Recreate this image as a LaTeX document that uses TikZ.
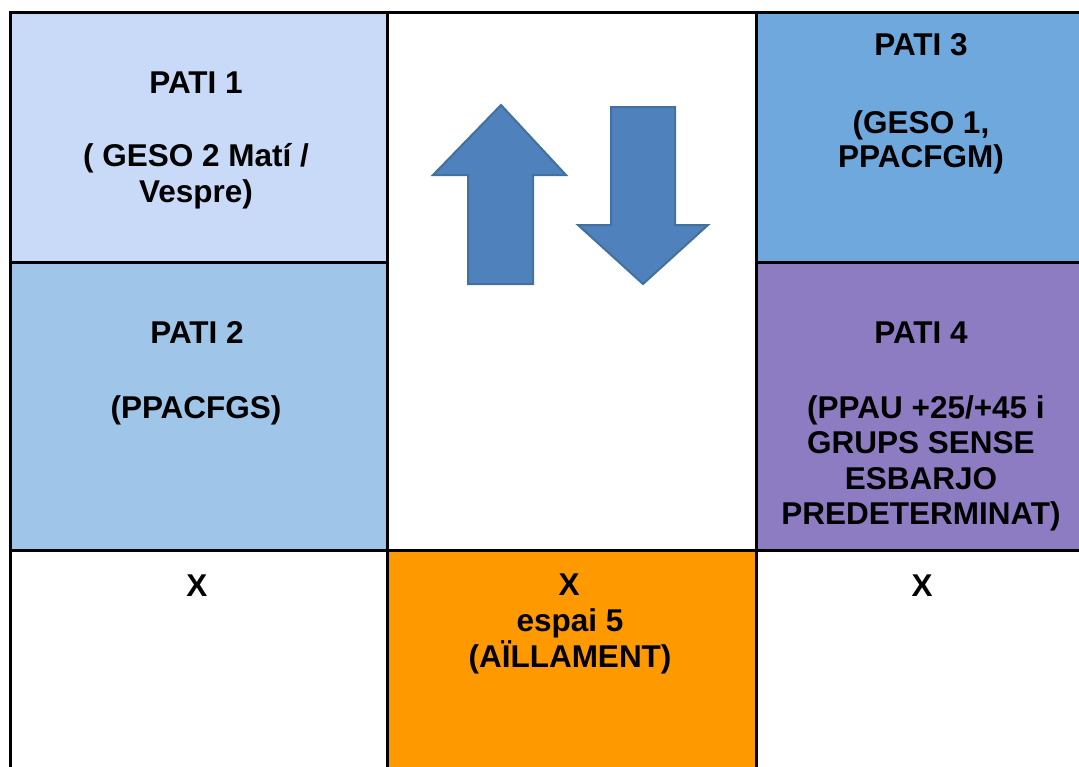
\documentclass[tikz,border=0pt]{standalone}
\usepackage{fontspec}
\setmainfont{Liberation Sans}
\definecolor{pati1}{HTML}{C9DAF8}
\definecolor{pati2}{HTML}{9FC5E8}
\definecolor{pati3}{HTML}{6FA8DC}
\definecolor{pati4}{HTML}{8E7CC3}
\definecolor{aill}{HTML}{FF9900}
\definecolor{arrowblue}{HTML}{4F81BD}
\definecolor{arrowedge}{HTML}{41719C}
\begin{document}
\begin{tikzpicture}[x=1pt,y=-1pt,
  cell/.style={draw=black, line width=3pt},
  lbl/.style={anchor=base, font=\fontsize{31.5}{35.5}\selectfont\bfseries, inner sep=0pt},
  bigarrow/.style={fill=arrowblue, draw=arrowedge, line width=2pt, line join=miter}]
\useasboundingbox (0,0) rectangle (1079,766);
\fill[white] (0,0) rectangle (1079,766);
\begin{scope}
\clip (0,0) rectangle (1079,766);
% cells
\path[cell, fill=pati1] (10,12) rectangle (387,262);
\path[cell, fill=pati2] (10,262) rectangle (387,550);
\path[cell, fill=white] (387,12) rectangle (756,550);
\path[cell, fill=pati3] (756,12) rectangle (1086,262);
\path[cell, fill=pati4] (756,262) rectangle (1086,550);
\path[cell, fill=white] (10,550) rectangle (387,790);
\path[cell, fill=aill] (387,550) rectangle (756,790);
\path[cell, fill=white] (756,550) rectangle (1086,790);
\end{scope}
% arrows
\draw[bigarrow] (501,105) -- (566,175) -- (533,175) -- (533,284) -- (468,284) -- (468,175) -- (433,175) -- cycle;
\draw[bigarrow] (611,107) -- (675,107) -- (675,225) -- (708,225) -- (643,284) -- (578,225) -- (611,225) -- cycle;
% texts
\node[lbl] (p1a) at (196,93) {PATI 1};
\node[lbl] (p1b) at (196,166) {( GESO 2 Matí /};
\node[lbl] (p1c) at (196,202) {Vespre)};
\node[lbl] (p2a) at (197,343) {PATI 2};
\node[lbl] (p2b) at (196,418) {(PPACFGS)};
\node[lbl] (p3a) at (921,55) {PATI 3};
\node[lbl] (p3b) at (921,133) {(GESO 1,};
\node[lbl] (p3c) at (921,167) {PPACFGM)};
\node[lbl] (p4a) at (921,343) {PATI 4};
\node[lbl] (p4b) at (926,418) {(PPAU +25/+45 i};
\node[lbl] (p4c) at (921,453) {GRUPS SENSE};
\node[lbl] (p4d) at (921,489) {ESBARJO};
\node[lbl] (p4e) at (921,524) {PREDETERMINAT)};
\node[lbl] (x1) at (197,596) {X};
\node[lbl] (x2) at (569,595) {X};
\node[lbl] (x2b) at (570,631) {espai 5};
\node[lbl] (x2c) at (570,667) {(AÏLLAMENT)};
\node[lbl] (x3) at (922,596) {X};
\end{tikzpicture}
\end{document}
